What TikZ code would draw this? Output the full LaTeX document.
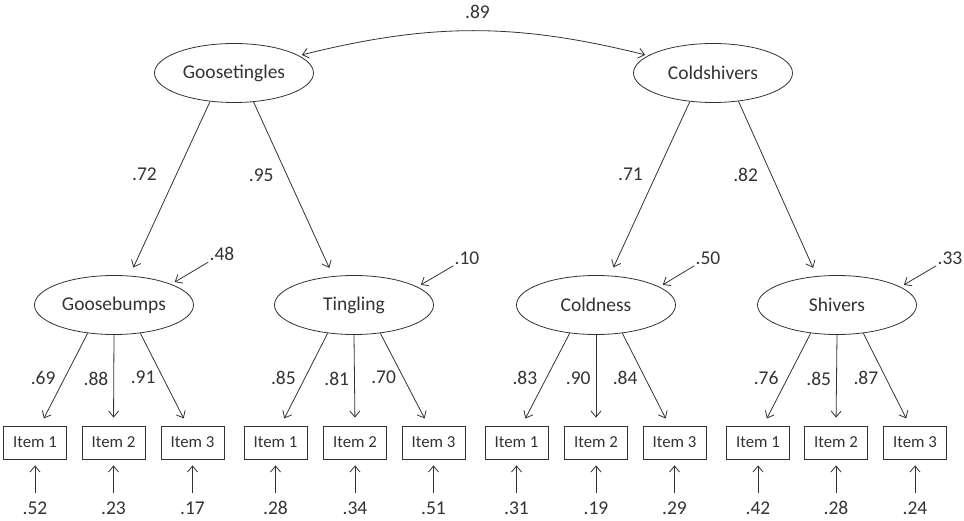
\documentclass[tikz,border=0pt]{standalone}
\usepackage{fontspec}
\setmainfont{Carlito}
\usetikzlibrary{shapes.geometric, arrows.meta}

\begin{document}
\begin{tikzpicture}[x=1pt, y=-1pt, line width=0.8pt, color=black!80,
        >={Straight Barb[length=6pt,width=10pt]},
        lat/.style={draw, ellipse, minimum width=159pt, minimum height=59pt, inner sep=0pt, font=\fontsize{19.5}{22}\selectfont},
        obs/.style={draw, rectangle, minimum width=63pt, minimum height=33pt, inner sep=0pt, font=\fontsize{16.8}{19}\selectfont},
        num/.style={inner sep=1pt, font=\fontsize{19.5}{22}\selectfont}]
        \useasboundingbox (0,0) rectangle (964,521);

        % latent factors
        \node[lat] (1) at (234,73) {Goosetingles};
        \node[lat] (2) at (713,73) {Coldshivers};
        \node[lat] (3) at (114,305) {Goosebumps};
        \node[lat] (4) at (354,305) {Tingling};
        \node[lat] (5) at (596,305) {Coldness};
        \node[lat] (6) at (837,305) {Shivers};

        % items
        \node[obs] (3a) at (35,442.5) {Item 1};
        \node[obs] (3b) at (113.5,442.5) {Item 2};
        \node[obs] (3c) at (192.5,442.5) {Item 3};
        \node[obs] (4a) at (275.5,442.5) {Item 1};
        \node[obs] (4b) at (355,442.5) {Item 2};
        \node[obs] (4c) at (433.5,442.5) {Item 3};
        \node[obs] (5a) at (516.5,442.5) {Item 1};
        \node[obs] (5b) at (596,442.5) {Item 2};
        \node[obs] (5c) at (674.5,442.5) {Item 3};
        \node[obs] (6a) at (758,442.5) {Item 1};
        \node[obs] (6b) at (836,442.5) {Item 2};
        \node[obs] (6c) at (915,442.5) {Item 3};

        % residuals
        \node[num] (r3) at (222,254) {.48};
        \node[num] (r4) at (467,258) {.10};
        \node[num] (r5) at (708,258) {.50};
        \node[num] (r6) at (950,258) {.33};

        % errors
        \node[num] (e3a) at (35,508) {.52};
        \node[num] (e3b) at (113.5,508) {.23};
        \node[num] (e3c) at (192.5,508) {.17};
        \node[num] (e4a) at (275.5,508) {.28};
        \node[num] (e4b) at (355,508) {.34};
        \node[num] (e4c) at (433.5,508) {.51};
        \node[num] (e5a) at (516.5,508) {.31};
        \node[num] (e5b) at (596,508) {.19};
        \node[num] (e5c) at (674.5,508) {.29};
        \node[num] (e6a) at (758,508) {.42};
        \node[num] (e6b) at (836,508) {.28};
        \node[num] (e6c) at (915,508) {.24};

        \draw[<->, shorten <=3pt, shorten >=3pt] (1.15) to [bend left=14] node[num, midway, above=11pt, xshift=4pt] {.89} (2.165);

        \draw[->, shorten >=9pt] (1.230) -- node[num, pos=.42, left=18pt] {.72} (3.62);
        \draw[->, shorten >=9pt] (1.304) -- node[num, pos=.42, left=12pt] {.95} (4.126);
        \draw[->, shorten >=9pt] (2.231) -- node[num, pos=.42, left=12pt] {.71} (5.65);
        \draw[->, shorten >=9pt] (2.312) -- node[num, pos=.42, left=12pt] {.82} (6.125);

        \draw[->, shorten >=4pt] (r3.south west) to (3.20);
        \draw[->, shorten >=4pt] (r4.south west) to (4.16);
        \draw[->, shorten >=4pt] (r5.south west) to (5.16);
        \draw[->, shorten >=4pt] (r6.south west) to (6.16);

        \draw[->, shorten >=8pt] (3.227) -- node[num, pos=.48, left=8pt] {.69} (3a.73);
        \draw[->, shorten >=8pt] (3.south) -- node[num, pos=.48, left=4pt] {.88} (3b.north);
        \draw[->, shorten >=8pt] (3.313) -- node[num, pos=.48, left=6pt] {.91} (3c.107);
        \draw[->, shorten >=8pt] (4.227) -- node[num, pos=.48, left=8pt] {.85} (4a.73);
        \draw[->, shorten >=8pt] (4.south) -- node[num, pos=.48, left=4pt] {.81} (4b.north);
        \draw[->, shorten >=8pt] (4.313) -- node[num, pos=.48, left=6pt] {.70} (4c.107);
        \draw[->, shorten >=8pt] (5.227) -- node[num, pos=.48, left=8pt] {.83} (5a.73);
        \draw[->, shorten >=8pt] (5.south) -- node[num, pos=.48, left=4pt] {.90} (5b.north);
        \draw[->, shorten >=8pt] (5.313) -- node[num, pos=.48, left=6pt] {.84} (5c.107);
        \draw[->, shorten >=8pt] (6.227) -- node[num, pos=.48, left=8pt] {.76} (6a.73);
        \draw[->, shorten >=8pt] (6.south) -- node[num, pos=.48, left=4pt] {.85} (6b.north);
        \draw[->, shorten >=8pt] (6.313) -- node[num, pos=.48, left=6pt] {.87} (6c.107);

        \draw[->, shorten <=7pt, shorten >=6pt] (e3a) to (3a);
        \draw[->, shorten <=7pt, shorten >=6pt] (e3b) to (3b);
        \draw[->, shorten <=7pt, shorten >=6pt] (e3c) to (3c);
        \draw[->, shorten <=7pt, shorten >=6pt] (e4a) to (4a);
        \draw[->, shorten <=7pt, shorten >=6pt] (e4b) to (4b);
        \draw[->, shorten <=7pt, shorten >=6pt] (e4c) to (4c);
        \draw[->, shorten <=7pt, shorten >=6pt] (e5a) to (5a);
        \draw[->, shorten <=7pt, shorten >=6pt] (e5b) to (5b);
        \draw[->, shorten <=7pt, shorten >=6pt] (e5c) to (5c);
        \draw[->, shorten <=7pt, shorten >=6pt] (e6a) to (6a);
        \draw[->, shorten <=7pt, shorten >=6pt] (e6b) to (6b);
        \draw[->, shorten <=7pt, shorten >=6pt] (e6c) to (6c);
    \end{tikzpicture}
\end{document}
